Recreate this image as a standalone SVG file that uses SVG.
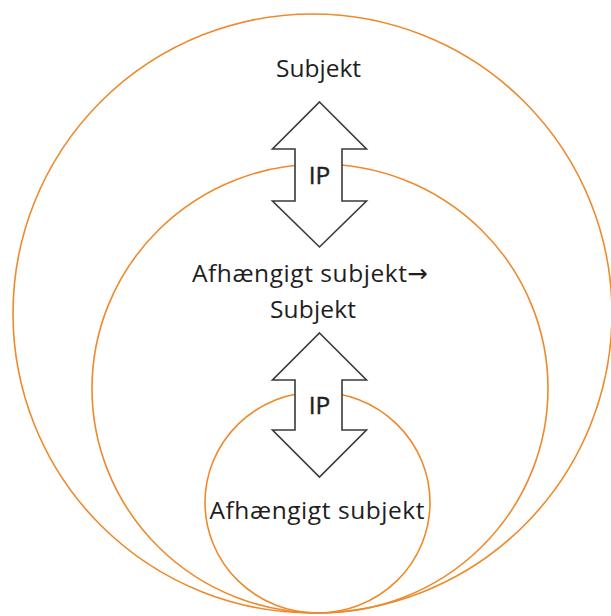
<svg xmlns="http://www.w3.org/2000/svg" width="611" height="616" viewBox="0 0 611 616">
  <style>
    .ring { fill: none; stroke: #EE8A2C; stroke-width: 1.6; }
    .dbl { fill: #ffffff; stroke: #3a3a3a; stroke-width: 1.6; stroke-linejoin: miter; }
    .lbl { font-family: "Open Sans", "DejaVu Sans", sans-serif; font-size: 24.5px; fill: #1e1e1e; text-anchor: middle; }
    .ip { stroke: #1e1e1e; stroke-width: 0.4; }
  </style>
  <rect width="611" height="616" fill="#ffffff"/>

  <!-- nested sets, touching at the bottom -->
  <g id="outer">
    <ellipse class="ring" cx="312.5" cy="313.5" rx="299.5" ry="299.5"/>
    <text class="lbl" x="318.5" y="77" textLength="85" lengthAdjust="spacing">Subjekt</text>
  </g>
  <g id="middle">
    <ellipse class="ring" cx="320" cy="388.5" rx="228" ry="224.5"/>
    <text class="lbl" x="310" y="282" textLength="236" lengthAdjust="spacing">Afhængigt subjekt→</text>
    <text class="lbl" x="313" y="318" textLength="86" lengthAdjust="spacing">Subjekt</text>
  </g>
  <g id="inner">
    <ellipse class="ring" cx="317.5" cy="502.5" rx="112.5" ry="110.5"/>
    <text class="lbl" x="317" y="519" textLength="215" lengthAdjust="spacing">Afhængigt subjekt</text>
  </g>

  <!-- double-headed IP arrows between the levels -->
  <g id="connectors">
    <g id="ip-upper">
      <polygon class="dbl" points="319.5,102 366.5,149 342,149 342,201 366.5,201 319.5,247 272.5,201 295,201 295,149 272.5,149"/>
      <text class="lbl ip" x="319.5" y="184">IP</text>
    </g>
    <g id="ip-lower">
      <polygon class="dbl" points="319.5,333 366.5,380 342,380 342,430 366.5,430 319.5,477 272.5,430 295,430 295,380 272.5,380"/>
      <text class="lbl ip" x="319.5" y="414">IP</text>
    </g>
  </g>
</svg>
